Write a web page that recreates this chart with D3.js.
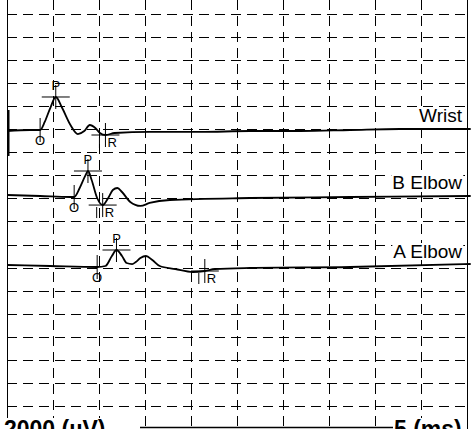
<!DOCTYPE html><html><head><script src="https://cdn.jsdelivr.net/npm/d3@7"></script>
<style>body{margin:0;background:#fff}</style></head><body><svg id="c" width="471" height="429"></svg>
<script>
const traceNames=["Wrist","B Elbow","A Elbow"];
const wristMs=[0,2.5,3.6,4.1,4.7,5.3,6.0,6.9,7.7,8.4,9.0,9.6,10.1,10.7,11.7,15.5,21,26.4,31.9,37.3,42.7,50.4];
const wristUv=[-87,0,0,700,1910,2870,1910,435,-350,-87,435,170,-260,-435,-260,-170,-170,-87,-87,0,87,87];
const bMs=[0,3.6,6.85,7.3,7.9,8.5,8.8,9.2,9.8,10.4,11.0,11.5,12.0,12.5,13.4,14.5,15.5,17.7,26.4,37.3,50.4];
const bUv=[175,87,0,0,783,1830,2260,1480,-87,-700,-87,610,783,435,-435,-780,-520,-260,-87,0,87];
const aMs=[0,4.7,9.8,10.7,11.4,11.9,12.5,13.0,13.6,14.0,14.5,15.1,15.8,16.6,18.3,20.2,21.5,22.6,26.4,37.3,50.4];
const aUv=[87,0,-87,0,870,1390,870,260,170,350,700,870,520,0,-260,-520,-435,-260,-170,-87,174];
const markersO=[3.6,7.3,9.8], markersP=[5.3,8.8,11.9], markersR=[10.7,10.4,21.5];
const svg=d3.select("#c");
const x=d3.scaleLinear().domain([0,50]).range([7,467]);
const bases=[130,197,266];
const ys=bases.map(b=>d3.scaleLinear().domain([0,2000]).range([b,b-23]));
const g=svg.append("g").attr("stroke","#000").attr("stroke-width",1).attr("stroke-dasharray","10,6");
d3.range(5,50,5).forEach(v=>g.append("line").attr("x1",x(v)+.5).attr("x2",x(v)+.5).attr("y1",0).attr("y2",429));
d3.range(0,18).forEach(i=>{const yy=14+i*23.05;g.append("line").attr("x1",7).attr("x2",467).attr("y1",Math.round(yy)+.5).attr("y2",Math.round(yy)+.5);});
svg.append("line").attr("x1",7.5).attr("x2",7.5).attr("y1",0).attr("y2",429).attr("stroke","#000");
svg.append("line").attr("x1",467.5).attr("x2",467.5).attr("y1",0).attr("y2",429).attr("stroke","#000");
svg.append("rect").attr("x",7).attr("y",110).attr("width",2.5).attr("height",46).attr("fill","#000");
const data=[[wristMs,wristUv],[bMs,bUv],[aMs,aUv]];
const F="Liberation Sans, Arial";
data.forEach(([ms,uv],i)=>{
  const y=ys[i];
  const line=d3.line().x(d=>x(d[0])).y(d=>y(d[1])).curve(d3.curveMonotoneX);
  svg.append("path").attr("d",line(ms.map((m,j)=>[m,uv[j]]))).attr("fill","none").attr("stroke","#000").attr("stroke-width",1.8);
  const val=m=>{let k=ms.findIndex(v=>v>=m);if(k<=0)return y(uv[0]);const t=(m-ms[k-1])/(ms[k]-ms[k-1]);return y(uv[k-1]+t*(uv[k]-uv[k-1]));};
  const mk=(m,lab,pos)=>{
    const px=x(m),py=val(m);
    svg.append("line").attr("x1",px).attr("x2",px).attr("y1",py-12).attr("y2",py+12).attr("stroke","#000");
    if(lab!=="O")svg.append("line").attr("x1",px-14).attr("x2",px+14).attr("y1",py).attr("y2",py).attr("stroke","#000");
    const t=svg.append("text").attr("font-family",F).attr("font-size",13).text(lab);
    if(pos==="above")t.attr("x",px).attr("y",py-7).attr("text-anchor","middle");
    else if(lab==="O")t.attr("x",px).attr("y",py+15).attr("text-anchor","middle");
    else {t.attr("x",px+2).attr("y",py+12);
      svg.append("line").attr("x1",px-6).attr("x2",px-6).attr("y1",py+2).attr("y2",py+13).attr("stroke","#000");}
  };
  mk(markersO[i],"O","below");mk(markersP[i],"P","above");mk(markersR[i],"R","below");
  const lt=svg.append("text").attr("x",462).attr("y",bases[i]-8).attr("text-anchor","end").attr("font-family",F).attr("font-size",19).text(traceNames[i]);
  const bb=lt.node().getBBox();
  svg.insert("rect",()=>lt.node()).attr("x",bb.x-1).attr("y",bb.y+2).attr("width",bb.width+2).attr("height",bb.height-4).attr("fill","#fff");
});
const bl=svg.append("text").attr("x",4).attr("y",437).attr("font-family",F).attr("font-weight","bold").attr("font-size",23).text("2000  (µV)");
const br=svg.append("text").attr("x",394).attr("y",437).attr("font-family",F).attr("font-weight","bold").attr("font-size",23).text("5  (ms)");
[bl,br].forEach(t=>{const b=t.node().getBBox();svg.insert("rect",()=>t.node()).attr("x",b.x).attr("y",b.y+2).attr("width",b.width+2).attr("height",b.height).attr("fill","#fff");});
svg.append("line").attr("x1",140).attr("x2",393).attr("y1",427.5).attr("y2",427.5).attr("stroke","#000").attr("stroke-width",1.5);
</script></body></html>
